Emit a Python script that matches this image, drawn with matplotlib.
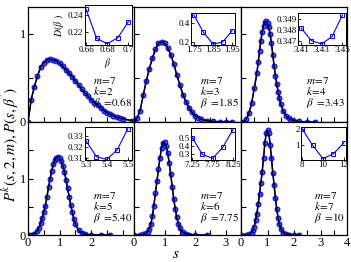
import matplotlib
matplotlib.use("Agg")
import matplotlib.pyplot as plt
from matplotlib.ticker import MultipleLocator, NullFormatter

plt.rcParams["font.family"] = ["Liberation Serif", "DejaVu Serif"]
plt.rcParams["mathtext.fontset"] = "stix"

# main panels: spacing distributions
s_k2 = [0.0, 0.1, 0.2, 0.3, 0.4, 0.5, 0.6, 0.7, 0.8, 0.9, 1.0, 1.1, 1.2, 1.3, 1.4, 1.5, 1.6, 1.7, 1.8, 1.9,
        2.0, 2.1, 2.2, 2.3, 2.4, 2.5, 2.6, 2.7, 2.8, 2.9, 3.0, 3.3]
p_k2 = [0.0, 0.25, 0.40, 0.52, 0.62, 0.67, 0.70, 0.71, 0.70, 0.69, 0.665, 0.63, 0.59, 0.55, 0.51, 0.46, 0.42,
        0.37, 0.33, 0.29, 0.25, 0.22, 0.19, 0.16, 0.13, 0.105, 0.085, 0.07, 0.055, 0.045, 0.035, 0.015]

s_k3 = [0.0, 0.1, 0.2, 0.3, 0.4, 0.5, 0.6, 0.7, 0.8, 0.9, 1.0, 1.1, 1.2, 1.3, 1.4, 1.5, 1.6, 1.7, 1.8, 1.9,
        2.0, 2.1, 2.2, 2.4, 2.6, 2.8, 3.0, 3.2]
p_k3 = [0.0, 0.04, 0.13, 0.30, 0.46, 0.60, 0.72, 0.82, 0.89, 0.91, 0.89, 0.84, 0.76, 0.66, 0.53, 0.42, 0.31,
        0.23, 0.16, 0.11, 0.07, 0.05, 0.03, 0.015, 0.006, 0.003, 0.0, 0.0]

s_k4 = [0.0, 0.1, 0.2, 0.3, 0.4, 0.5, 0.6, 0.65, 0.7, 0.75, 0.8, 0.85, 0.9, 0.95, 1.0, 1.05, 1.1, 1.15, 1.2,
        1.25, 1.3, 1.35, 1.4, 1.45, 1.5, 1.6, 1.7, 1.8, 1.9, 2.0, 2.2, 2.5, 2.8]
p_k4 = [0.0, 0.0, 0.03, 0.10, 0.21, 0.38, 0.55, 0.68, 0.80, 0.92, 1.02, 1.09, 1.13, 1.14, 1.12, 1.07, 0.99,
        0.89, 0.76, 0.63, 0.52, 0.43, 0.34, 0.27, 0.20, 0.12, 0.07, 0.04, 0.025, 0.015, 0.006, 0.0, 0.0]

s_k5 = [0.0, 0.1, 0.2, 0.3, 0.35, 0.4, 0.45, 0.5, 0.55, 0.6, 0.65, 0.7, 0.75, 0.8, 0.85, 0.9, 0.95, 1.0, 1.05,
        1.1, 1.15, 1.2, 1.25, 1.3, 1.35, 1.4, 1.45, 1.5, 1.6, 1.7, 1.8, 2.0, 2.3, 2.6]
p_k5 = [0.0, 0.0, 0.02, 0.07, 0.13, 0.21, 0.30, 0.40, 0.52, 0.68, 0.85, 1.0, 1.14, 1.25, 1.33, 1.37, 1.38,
        1.36, 1.31, 1.23, 1.12, 0.98, 0.83, 0.68, 0.53, 0.40, 0.28, 0.19, 0.08, 0.035, 0.015, 0.0, 0.0, 0.0]

s_k6 = [0.0, 0.2, 0.3, 0.4, 0.45, 0.5, 0.55, 0.6, 0.65, 0.7, 0.75, 0.8, 0.85, 0.9, 0.95, 1.0, 1.05, 1.1, 1.15,
        1.2, 1.25, 1.3, 1.35, 1.4, 1.45, 1.5, 1.6, 1.7, 1.8, 2.0, 2.4]
p_k6 = [0.0, 0.0, 0.01, 0.03, 0.06, 0.11, 0.19, 0.33, 0.52, 0.74, 0.95, 1.16, 1.37, 1.54, 1.63, 1.64, 1.58,
        1.46, 1.28, 1.08, 0.85, 0.64, 0.46, 0.31, 0.20, 0.12, 0.05, 0.02, 0.008, 0.0, 0.0]

s_k7 = [0.0, 0.2, 0.3, 0.4, 0.45, 0.5, 0.55, 0.6, 0.65, 0.7, 0.75, 0.8, 0.85, 0.9, 0.95, 1.0, 1.05, 1.1, 1.15,
        1.2, 1.25, 1.3, 1.35, 1.4, 1.45, 1.5, 1.6, 1.7, 1.8, 2.0, 2.2]
p_k7 = [0.0, 0.0, 0.01, 0.04, 0.08, 0.15, 0.26, 0.38, 0.55, 0.73, 0.92, 1.12, 1.36, 1.62, 1.80, 1.85, 1.80,
        1.60, 1.36, 1.10, 0.88, 0.65, 0.46, 0.30, 0.19, 0.11, 0.04, 0.015, 0.005, 0.0, 0.0]

# insets: D(beta') around the optimum
b_k2 = [0.66, 0.67, 0.68, 0.69, 0.70]
d_k2 = [0.247, 0.2125, 0.206, 0.213, 0.232]
b_k3 = [1.75, 1.80, 1.85, 1.90, 1.95]
d_k3 = [0.48, 0.30, 0.18, 0.20, 0.317]
b_k4 = [3.41, 3.42, 3.43, 3.44, 3.45]
d_k4 = [0.3482, 0.3470, 0.3467, 0.3474, 0.3494]
b_k5 = [5.30, 5.35, 5.40, 5.45, 5.50]
d_k5 = [0.3258, 0.3115, 0.309, 0.318, 0.337]
b_k6 = [7.25, 7.50, 7.75, 8.00, 8.25]
d_k6 = [0.50, 0.29, 0.24, 0.38, 0.60]
b_k7 = [8, 9, 10, 11, 12]
d_k7 = [2.0, 1.0, 0.18, 0.48, 1.14]

ks = [2, 3, 4, 5, 6, 7]
beta_labels = ["0.68", "1.85", "3.43", "5.40", "7.75", "10"]
main_s = [s_k2, s_k3, s_k4, s_k5, s_k6, s_k7]
main_p = [p_k2, p_k3, p_k4, p_k5, p_k6, p_k7]
ins_b = [b_k2, b_k3, b_k4, b_k5, b_k6, b_k7]
ins_d = [d_k2, d_k3, d_k4, d_k5, d_k6, d_k7]
ins_xticks = [[0.66, 0.68, 0.7], [1.75, 1.85, 1.95], [3.41, 3.43, 3.45],
              [5.3, 5.4, 5.5], [7.25, 7.75, 8.25], [8, 10, 12]]
ins_xlabels = [["0.66", "0.68", "0.7"], ["1.75", "1.85", "1.95"], ["3.41", "3.43", "3.45"],
               ["5.3", "5.4", "5.5"], ["7.25", "7.75", "8.25"], ["8", "10", "12"]]
ins_yticks = [[0.22, 0.24], [0.2, 0.4], [0.347, 0.348, 0.349],
              [0.31, 0.32, 0.33], [0.3, 0.4, 0.5], [1, 2]]
ins_ylabels = [["0.22", "0.24"], ["0.2", "0.4"], ["0.347", "0.348", "0.349"],
               ["0.31", "0.32", "0.33"], ["0.3", "0.4", "0.5"], ["1", "2"]]
ins_xlim = [(0.659, 0.7035), (1.735, 1.965), (3.407, 3.4535), (5.295, 5.52), (7.22, 8.3), (7.9, 12.2)]
ins_ylim = [(0.2045, 0.252), (0.17, 0.50), (0.3466, 0.3496), (0.3085, 0.3385), (0.22, 0.62), (0.1, 2.1)]

W, H = 351, 262
fig = plt.figure(figsize=(W / 100, H / 100), dpi=100)

col_x = [28, 134, 241, 347]
row_y = [7, 122, 235]
xmax = [3.35, 3.5, 4.0]
ymax = [1.3, 2.0]
xlabeled = [[0, 1, 2], [0, 1, 2, 3], [0, 1, 2, 3, 4]]
text_mid = [29, 27]  # px above each panel's bottom, middle line of the label block
ins_box = [(85, 5, 132, 45), (191, 13, 235, 45), (298, 13, 346, 45),
           (85, 127, 132, 160), (191, 128, 235, 160), (301, 127, 346, 160)]


def fbox(x0, y0, x1, y1):
    return [x0 / W, 1 - y1 / H, (x1 - x0) / W, (y1 - y0) / H]


for i in range(6):
    r, c = divmod(i, 3)
    ax = fig.add_axes(fbox(col_x[c], row_y[r], col_x[c + 1], row_y[r + 1]))
    ax.plot(main_s[i], main_p[i], "-", color="blue", lw=1.0, marker="o", ms=3.4,
            mfc="#5050ff", mec="blue", mew=0.8, zorder=2)
    ax.plot(main_s[i], main_p[i], "-", color="black", lw=1.0, zorder=3)
    ax.set_xlim(0, xmax[c])
    ax.set_ylim(0, ymax[r])
    ax.set_xticks(xlabeled[c])
    ax.xaxis.set_minor_locator(MultipleLocator(0.5))
    ax.set_yticks([0, 1])
    ax.yaxis.set_minor_locator(MultipleLocator(0.5))
    ax.tick_params(which="both", direction="in", length=3.5, width=0.8, labelsize=9, pad=1.5)
    if r == 0:
        ax.xaxis.set_major_formatter(NullFormatter())
    if c != 0:
        ax.yaxis.set_major_formatter(NullFormatter())
    for sp in ax.spines.values():
        sp.set_linewidth(0.9)
    hpx = row_y[r + 1] - row_y[r]
    label = "$m\\!=\\!7$\n$k\\!=\\!%d$\n$\\beta^{'}\\!=\\!%s$" % (ks[i], beta_labels[i])
    ax.text(0.98, text_mid[r] / hpx, label, transform=ax.transAxes, ha="right", va="center",
            multialignment="left", fontsize=8, linespacing=0.85)

    ia = fig.add_axes(fbox(*ins_box[i]))
    ia.plot(ins_b[i], ins_d[i], "-", color="blue", lw=0.8, marker="s", ms=2.5,
            mfc="none", mec="blue", mew=0.7)
    ia.set_xlim(*ins_xlim[i])
    ia.set_ylim(*ins_ylim[i])
    ia.set_xticks(ins_xticks[i])
    ia.set_xticklabels(ins_xlabels[i])
    ia.set_yticks(ins_yticks[i])
    ia.set_yticklabels(ins_ylabels[i])
    ia.tick_params(direction="in", length=2, width=0.6, labelsize=6.5, pad=1)
    for sp in ia.spines.values():
        sp.set_linewidth(0.7)
    if i == 0:
        ia.set_ylabel("$D(\\beta^{'})$", fontsize=7, labelpad=1)
        ia.set_xlabel("$\\beta^{'}$", fontsize=7, labelpad=0)

fig.text(10 / W, 1 - 145 / H, "$P^{k}(s,2,m),P(s,\\beta^{'})$", rotation=90,
         ha="center", va="center", fontsize=11)
fig.text(176 / W, 1 - 255 / H, "$s$", ha="center", va="center", fontsize=11)

fig.savefig("out.png", dpi=100)
